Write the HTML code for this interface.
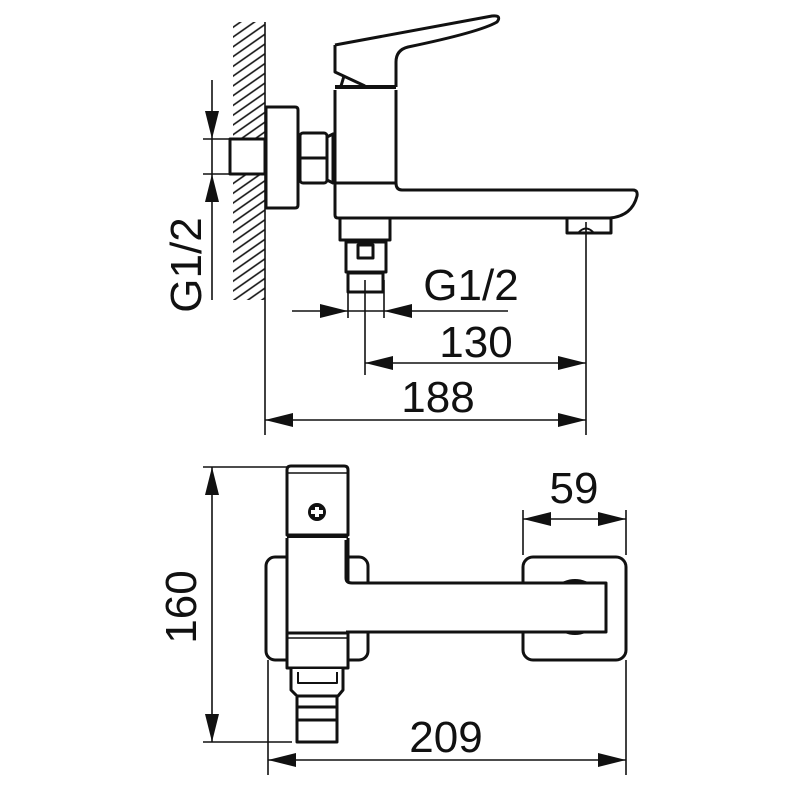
<!DOCTYPE html>
<html><head><meta charset="utf-8"><style>
html,body{margin:0;padding:0;background:#fff;}
svg{display:block;}
text{font-family:"Liberation Sans",sans-serif;fill:#111;}
</style></head><body>
<svg width="800" height="800" viewBox="0 0 800 800" xmlns="http://www.w3.org/2000/svg">
<defs>
<pattern id="h" width="8" height="8" patternUnits="userSpaceOnUse" patternTransform="rotate(-35)">
<line x1="0" y1="4" x2="8" y2="4" stroke="#111" stroke-width="1.6"/>
</pattern>
</defs>
<g fill="none" stroke="#111" stroke-width="3" stroke-linejoin="round">
<rect x="233" y="22" width="32" height="278" fill="url(#h)" stroke="none"/>
<line x1="265" y1="22" x2="265" y2="435" stroke-width="1.6"/>
<rect x="230" y="139" width="35" height="35" fill="#fff"/>
<path d="M266 107 H295 Q298 107 298 110 V205 Q298 208 295 208 H266 Z" fill="#fff"/>
<rect x="300" y="133" width="27" height="50" rx="3" fill="#fff"/>
<line x1="301" y1="158" x2="326" y2="158"/>
<path d="M327 137 L333 134 V183 L327 180"/>
<path d="M335 45 L492 16 Q502 15 497 22 Q480 32 408 47 Q396 50 396 62 V87"/>
<path d="M335 45 V72 L365 86"/>
<line x1="341" y1="86" x2="344" y2="76"/>
<line x1="335" y1="87" x2="396" y2="87" stroke-width="4"/>
<path d="M335 90 V183 H396 V90"/>
<path d="M396 183 Q396 190 402 190 H633 Q638 190 637 196 Q632 216 610 218 H338 Q335 218 335 215 V183"/>
<path d="M340 218 V240 H390 V218"/>
<rect x="346" y="242" width="40" height="30"/>
<rect x="358" y="245" width="15" height="13"/>
<rect x="348" y="273" width="35" height="19"/>
<path d="M567 218 V233 H611 V218"/>
<path d="M579 232 Q586 225 593 232" stroke-width="2"/>
</g>
<g stroke="#111" stroke-width="1.6" fill="none">
<line x1="586" y1="222" x2="586" y2="435"/>
<line x1="365" y1="280" x2="365" y2="375"/>
<line x1="348" y1="280" x2="348" y2="318"/>
<line x1="384" y1="280" x2="384" y2="318"/>
<line x1="212" y1="80" x2="212" y2="300"/>
<line x1="203" y1="139" x2="265" y2="139"/>
<line x1="203" y1="174" x2="265" y2="174"/>
<line x1="292" y1="311" x2="508" y2="311"/>
<line x1="365" y1="363" x2="586" y2="363"/>
<line x1="265" y1="420" x2="586" y2="420"/>
<line x1="212" y1="467" x2="212" y2="742"/>
<line x1="203" y1="467" x2="287" y2="467"/>
<line x1="203" y1="742" x2="292" y2="742"/>
<line x1="268" y1="660" x2="268" y2="775"/>
<line x1="626" y1="660" x2="626" y2="775"/>
<line x1="268" y1="760" x2="626" y2="760"/>
<line x1="523" y1="510" x2="523" y2="555"/>
<line x1="626" y1="510" x2="626" y2="555"/>
<line x1="523" y1="519" x2="626" y2="519"/>
</g>
<g fill="#111">
<polygon points="212,139 205,111 219,111"/>
<polygon points="212,174 205,202 219,202"/>
<polygon points="348,311 320,304 320,318"/>
<polygon points="384,311 412,304 412,318"/>
<polygon points="365,363 393,356 393,370"/>
<polygon points="586,363 558,356 558,370"/>
<polygon points="265,420 293,413 293,427"/>
<polygon points="586,420 558,413 558,427"/>
<polygon points="212,467 205,495 219,495"/>
<polygon points="212,742 205,714 219,714"/>
<polygon points="268,760 296,753 296,767"/>
<polygon points="626,760 598,753 598,767"/>
<polygon points="523,519 551,512 551,526"/>
<polygon points="626,519 598,512 598,526"/>
</g>
<g fill="none" stroke="#111" stroke-width="3" stroke-linejoin="round">
<rect x="266" y="557" width="102" height="103" rx="9" fill="#fff"/>
<rect x="523" y="557" width="103" height="103" rx="10" fill="#fff"/>
<circle cx="575" cy="607" r="28" fill="#111" stroke="none"/>
<path d="M287 470 Q287 466 291 466 H344 Q348 466 348 470 V535 H287 Z" fill="#fff"/>
<line x1="288" y1="473" x2="347" y2="473" stroke-width="1.6"/>
<line x1="287" y1="537" x2="348" y2="537" stroke-width="4"/>
<path d="M287 538 V668 H348 V538" fill="#fff"/>
<path d="M346 540 V578 Q346 583 352 583 H606 V632 H346" fill="#fff"/>
<line x1="287" y1="633" x2="348" y2="633"/>
<line x1="287" y1="638" x2="348" y2="638" stroke-width="1.6"/>
<path d="M291 669 V690 L297 696 H338 L343 690 V669" fill="#fff"/>
<path d="M298 672 V683 H337 V672" stroke-width="2"/>
<path d="M297 697 V742 H337 V697"/>
<line x1="297" y1="707" x2="337" y2="707"/>
<line x1="297" y1="720" x2="337" y2="720"/>
</g>
<circle cx="317" cy="512" r="9" fill="#111"/>
<rect x="311" y="510" width="12" height="4" fill="#fff"/>
<rect x="315" y="507" width="4" height="10" fill="#fff"/>
<text x="471" y="300" font-size="44" text-anchor="middle">G1/2</text>
<text x="476" y="357" font-size="44" text-anchor="middle">130</text>
<text x="438" y="412" font-size="44" text-anchor="middle">188</text>
<text x="0" y="0" font-size="44" text-anchor="middle" transform="translate(201,265) rotate(-90)">G1/2</text>
<text x="0" y="0" font-size="44" text-anchor="middle" transform="translate(196,607) rotate(-90)">160</text>
<text x="446" y="752" font-size="44" text-anchor="middle">209</text>
<text x="574" y="503" font-size="44" text-anchor="middle">59</text>
</svg>
</body></html>
